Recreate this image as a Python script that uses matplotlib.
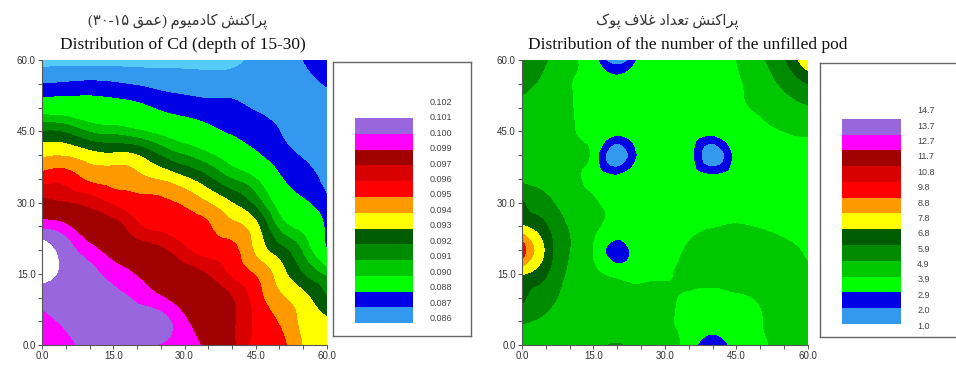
import numpy as np
import matplotlib
matplotlib.use("Agg")
import matplotlib.pyplot as plt
import matplotlib.tri as mtri
from matplotlib.colors import ListedColormap, BoundaryNorm
from matplotlib.ticker import MultipleLocator, FormatStrFormatter

# grid of sampling positions (m)
grid_x = [0, 5, 10, 15, 20, 25, 30, 35, 40, 45, 50, 55, 60]
grid_y = [0, 5, 10, 15, 20, 25, 30, 35, 40, 45, 50, 55, 60]

# Cd (depth 15-30), rows from y=60 (top) down to y=0
cd_grid = [
    [0.0856, 0.0856, 0.0856, 0.0856, 0.0856, 0.0856, 0.0856, 0.0856, 0.0857, 0.0862, 0.0863, 0.0870, 0.0876],
    [0.0870, 0.0871, 0.0872, 0.0871, 0.0869, 0.0867, 0.0866, 0.0865, 0.0865, 0.0864, 0.0863, 0.0866, 0.0871],
    [0.0891, 0.0890, 0.0888, 0.0886, 0.0883, 0.0878, 0.0875, 0.0873, 0.0872, 0.0869, 0.0866, 0.0863, 0.0864],
    [0.0920, 0.0918, 0.0909, 0.0906, 0.0902, 0.0896, 0.0890, 0.0884, 0.0878, 0.0875, 0.0870, 0.0864, 0.0863],
    [0.0938, 0.0939, 0.0934, 0.0932, 0.0930, 0.0919, 0.0910, 0.0902, 0.0892, 0.0882, 0.0874, 0.0869, 0.0864],
    [0.0955, 0.0956, 0.0948, 0.0946, 0.0943, 0.0939, 0.0932, 0.0922, 0.0910, 0.0900, 0.0882, 0.0874, 0.0867],
    [0.0974, 0.0970, 0.0966, 0.0958, 0.0954, 0.0952, 0.0948, 0.0940, 0.0930, 0.0916, 0.0894, 0.0882, 0.0872],
    [0.0997, 0.0992, 0.0980, 0.0975, 0.0962, 0.0957, 0.0955, 0.0951, 0.0943, 0.0933, 0.0907, 0.0895, 0.0877],
    [0.1016, 0.1005, 0.0994, 0.0985, 0.0978, 0.0972, 0.0962, 0.0956, 0.0953, 0.0938, 0.0924, 0.0908, 0.0880],
    [0.1013, 0.1008, 0.1003, 0.0996, 0.0989, 0.0982, 0.0976, 0.0969, 0.0958, 0.0949, 0.0935, 0.0920, 0.0907],
    [0.1005, 0.1006, 0.1005, 0.1003, 0.0998, 0.0991, 0.0984, 0.0978, 0.0970, 0.0955, 0.0942, 0.0933, 0.0920],
    [0.0996, 0.1002, 0.1006, 0.1007, 0.1005, 0.1004, 0.0992, 0.0982, 0.0972, 0.0958, 0.0949, 0.0937, 0.0932],
    [0.0993, 0.0996, 0.1005, 0.1008, 0.1008, 0.0999, 0.0997, 0.0986, 0.0973, 0.0957, 0.0953, 0.0939, 0.0937],
]

# number of unfilled pods, rows from y=60 (top) down to y=0
pod_grid = [
    [5.6, 5.0, 4.0, 3.3, 1.3, 3.3, 3.5, 3.5, 3.6, 3.9, 4.7, 5.8, 7.6],
    [5.2, 4.6, 3.95, 3.4, 3.3, 3.4, 3.5, 3.5, 3.6, 3.8, 4.3, 5.1, 5.9],
    [4.6, 4.3, 3.95, 3.5, 3.5, 3.5, 3.5, 3.5, 3.5, 3.7, 4.0, 4.4, 4.8],
    [4.4, 4.2, 4.0, 3.5, 3.3, 3.4, 3.5, 3.4, 3.3, 3.4, 3.7, 3.9, 4.0],
    [4.5, 4.3, 4.1, 3.5, 1.3, 3.3, 3.5, 3.3, 1.3, 3.3, 3.5, 3.6, 3.7],
    [4.7, 4.5, 4.2, 3.6, 3.3, 3.4, 3.5, 3.4, 3.3, 3.4, 3.5, 3.5, 3.5],
    [6.0, 5.2, 4.5, 4.05, 3.5, 3.5, 3.5, 3.5, 3.5, 3.5, 3.5, 3.5, 3.5],
    [6.9, 6.0, 4.8, 4.1, 3.5, 3.5, 3.6, 3.7, 3.85, 3.95, 3.85, 3.7, 3.6],
    [9.4, 6.6, 4.9, 3.8, 2.5, 3.6, 3.75, 4.0, 4.2, 4.3, 4.3, 4.1, 3.8],
    [6.9, 6.0, 4.7, 4.1, 3.6, 3.75, 3.85, 4.1, 4.3, 4.4, 4.4, 4.3, 4.0],
    [6.1, 5.3, 4.6, 4.3, 4.1, 4.1, 4.0, 3.8, 3.6, 3.75, 4.0, 4.3, 4.3],
    [5.0, 4.7, 4.4, 4.3, 4.2, 4.1, 4.0, 3.6, 3.3, 3.5, 3.85, 4.2, 4.3],
    [4.6, 4.4, 4.3, 4.4, 5.0, 4.2, 4.05, 3.5, 2.2, 3.4, 3.8, 4.2, 4.3],
]

# legend labels (top to bottom) and contour levels (bottom to top)
cd_labels = ["0.102", "0.101", "0.100", "0.099", "0.097", "0.096", "0.095", "0.094",
             "0.093", "0.092", "0.091", "0.090", "0.088", "0.087", "0.086"]
cd_levels = [0.086, 0.087, 0.088, 0.090, 0.091, 0.092, 0.093, 0.094,
             0.095, 0.096, 0.097, 0.099, 0.100, 0.101]
pod_labels = ["14.7", "13.7", "12.7", "11.7", "10.8", "9.8", "8.8", "7.8",
              "6.8", "5.9", "4.9", "3.9", "2.9", "2.0", "1.0"]
pod_levels = [1.0, 2.0, 2.9, 3.9, 4.9, 5.9, 6.8, 7.8, 8.8, 9.8, 10.8, 11.7, 12.7, 13.7]

# colours of the bands, bottom to top (Surfer style)
band_colors = ['#3399EE', '#0000E6', '#00FF00', '#00C800', '#008C00', '#005C00',
               '#FFFF00', '#FF9900', '#FF0000', '#D80000', '#A00000', '#FF00FF', '#9966DD']

# Persian titles, written in visual order with presentation forms
# left:  پراکنش کادمیوم (عمق ۱۵-۳۰)
fa_parakonesh = "\uFEB6\uFEE8\uFB90\uFE8D\uFEAE\uFB58"
fa_cadmium = "\uFEE1\uFEEE\uFBFF\uFEE3\uFEA9\uFE8E\uFB90"
fa_omgh = "\uFED6\uFEE4\uFECB"
# right: پراکنش تعداد غلاف پوک
fa_tedad = "\uFEA9\uFE8D\uFEAA\uFECC\uFE97"
fa_ghelaf = "\uFED1\uFEFC\uFECF"
fa_pook = "\uFB8E\uFEEE\uFB58"

title_fa_left = "(\u06F3\u06F0-\u06F1\u06F5 " + fa_omgh + ") " + fa_cadmium + " " + fa_parakonesh
title_fa_right = fa_pook + " " + fa_ghelaf + " " + fa_tedad + " " + fa_parakonesh
title_en_left = "Distribution of Cd (depth of 15-30)"
title_en_right = "Distribution of the number of the unfilled pod"


def draw_map(ax, values, levels, under_color):
    X, Y = np.meshgrid(grid_x, grid_y)
    Z = np.array(values)[::-1]
    tri = mtri.Triangulation(X.ravel(), Y.ravel())
    interp = mtri.CubicTriInterpolator(tri, Z.ravel(), kind='min_E')
    refiner = mtri.UniformTriRefiner(tri)
    tri_f, z_f = refiner.refine_field(Z.ravel(), triinterpolator=interp, subdiv=4)

    cmap = ListedColormap(band_colors)
    cmap.set_under(under_color)
    cmap.set_over('white')
    norm = BoundaryNorm(levels, cmap.N)
    ax.tricontourf(tri_f, z_f, levels=levels, cmap=cmap, norm=norm, extend='both')

    ax.set_xlim(0, 60)
    ax.set_ylim(0, 60)
    for s in ['top', 'right']:
        ax.spines[s].set_visible(False)
    for s in ['left', 'bottom']:
        ax.spines[s].set_color('#555555')
        ax.spines[s].set_linewidth(0.8)
    ax.xaxis.set_major_locator(MultipleLocator(15))
    ax.yaxis.set_major_locator(MultipleLocator(15))
    ax.xaxis.set_minor_locator(MultipleLocator(5))
    ax.yaxis.set_minor_locator(MultipleLocator(5))
    ax.xaxis.set_major_formatter(FormatStrFormatter('%.1f'))
    ax.yaxis.set_major_formatter(FormatStrFormatter('%.1f'))
    ax.tick_params(which='both', direction='out', length=3, width=0.7,
                   color='#555555', labelsize=7, labelcolor='#333333', pad=1.5)
    for lab in ax.get_xticklabels() + ax.get_yticklabels():
        lab.set_family('Liberation Sans')


def draw_legend(ax, labels, label_top, label_bottom):
    ax.bar(np.full(len(band_colors), 0.37), np.ones(len(band_colors)), width=0.42,
           bottom=np.arange(len(band_colors)), color=band_colors, edgecolor='none')
    ys = np.linspace(label_top, label_bottom, len(labels))
    for y, lab in zip(ys, labels):
        ax.text(0.70, y, lab, fontsize=6.5, color='#444444', va='center', ha='left',
                family='Liberation Sans')
    ax.set_xlim(0, 1)
    ax.set_ylim(-0.82, 16.55)
    ax.set_xticks([])
    ax.set_yticks([])
    for s in ax.spines.values():
        s.set_color('#666666')
        s.set_linewidth(1.0)


fig = plt.figure(figsize=(9.56, 3.69), dpi=100)

ax1 = fig.add_axes([0.044, 0.065, 0.298, 0.772])
draw_map(ax1, cd_grid, cd_levels, '#55CCF5')
leg1 = fig.add_axes([0.348, 0.089, 0.145, 0.743])
draw_legend(leg1, cd_labels, 14.0, 0.3)

ax2 = fig.add_axes([0.546, 0.065, 0.299, 0.772])
draw_map(ax2, pod_grid, pod_levels, '#3399EE')
leg2 = fig.add_axes([0.858, 0.087, 0.145, 0.743])
draw_legend(leg2, pod_labels, 13.5, -0.13)

fa_font = ['Liberation Serif', 'DejaVu Sans']
fig.text(0.186, 0.942, title_fa_left, family=fa_font, fontsize=10.5, ha='center', va='center', color='#333333')
fig.text(0.191, 0.878, title_en_left, family='Liberation Serif', fontsize=12.5, ha='center', va='center', color='#111111')
fig.text(0.698, 0.942, title_fa_right, family=fa_font, fontsize=10.5, ha='center', va='center', color='#333333')
fig.text(0.719, 0.878, title_en_right, family='Liberation Serif', fontsize=12.5, ha='center', va='center', color='#111111')

fig.savefig('out.png', dpi=100)
